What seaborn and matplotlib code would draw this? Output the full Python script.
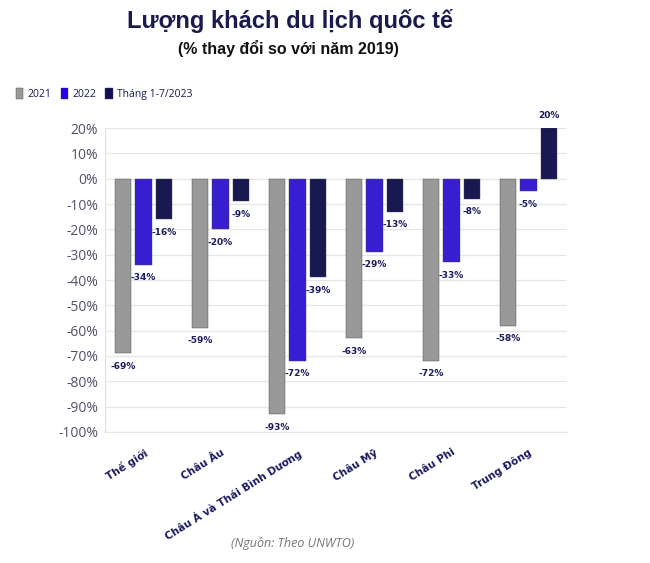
import pandas as pd
import matplotlib.pyplot as plt
import seaborn as sns
from matplotlib.ticker import FuncFormatter

# Data (% change vs 2019)
regions = ['Thế giới', 'Châu Âu', 'Châu Á và Thái Bình Dương',
           'Châu Mỹ', 'Châu Phi', 'Trung Đông']
series_names = ['2021', '2022', 'Tháng 1-7/2023']
vals_2021 = [-69, -59, -93, -63, -72, -58]
vals_2022 = [-34, -20, -72, -29, -33, -5]
vals_2023 = [-16, -9, -39, -13, -8, 20]
colors = ['#999999', '#2200ee', '#0f0f5c']

df = pd.DataFrame({
    'Khu vực': regions * 3,
    'Năm': [s for s in series_names for _ in regions],
    'Giá trị': vals_2021 + vals_2022 + vals_2023,
})

sns.set_style('white')
plt.rcParams['font.family'] = ['Open Sans', 'DejaVu Sans']

fig = plt.figure(figsize=(6.5, 5.63), dpi=100)
ax = fig.add_axes([0.1615, 0.2327, 0.7108, 0.5399])

sns.barplot(data=df, x='Khu vực', y='Giá trị', hue='Năm',
            palette=colors, width=0.8, gap=0.2, ax=ax,
            edgecolor='#444444', linewidth=0.3, legend=False)

# value labels
for cont in ax.containers:
    ax.bar_label(cont, labels=[f'{v:.0f}%' for v in cont.datavalues],
                 padding=6, fontsize=6.5, fontweight='bold', color='#1a1a5e',
                 family=['DejaVu Sans'])

ax.set_ylim(-100, 20)
ax.set_xlim(-0.5, 5.5)
ax.set_yticks(range(-100, 21, 10))
ax.yaxis.set_major_formatter(FuncFormatter(lambda v, p: f'{v:.0f}%'))
ax.tick_params(axis='y', labelsize=10, labelcolor='#50506a', length=0, pad=5)
ax.tick_params(axis='x', length=3, color='#dddddd', pad=8)
ax.grid(axis='y', color='#e6e6e6', linewidth=0.9)
ax.set_axisbelow(True)
for side in ['top', 'right']:
    ax.spines[side].set_visible(False)
ax.spines['left'].set_color('#e0e0e0')
ax.spines['bottom'].set_color('#e6e6e6')

ax.set_xticks(range(len(regions)))
ax.set_xticklabels(regions, rotation=32, ha='right', rotation_mode='anchor',
                   fontsize=7.5, fontweight='bold', color='#1a1a5e',
                   family=['DejaVu Sans'])
ax.set_xlabel('')
ax.set_ylabel('')

# legend
handles = [plt.Rectangle((0, 0), 1, 1, facecolor=c, edgecolor='#444444', linewidth=0.3)
           for c in colors]
fig.legend(handles, series_names, loc='center left', bbox_to_anchor=(0.01, 0.833),
           ncol=3, frameon=False, fontsize=7.5, handlelength=0.7, handleheight=1.2,
           handletextpad=0.4, columnspacing=0.9, labelcolor='#1a1a4e')

# titles and source
fig.text(0.446, 0.963, 'Lượng khách du lịch quốc tế', ha='center', va='center',
         fontsize=17, fontweight='bold', color='#1a1a4e',
         family=['Liberation Sans', 'DejaVu Sans'])
fig.text(0.443, 0.914, '(% thay đổi so với năm 2019)', ha='center', va='center',
         fontsize=11.5, fontweight='bold', color='#111111',
         family=['Liberation Sans', 'DejaVu Sans'])
fig.text(0.45, 0.035, '(Nguồn: Theo UNWTO)', ha='center', va='center',
         fontsize=9, style='italic', color='#777777')

fig.savefig('out.png', dpi=100)
